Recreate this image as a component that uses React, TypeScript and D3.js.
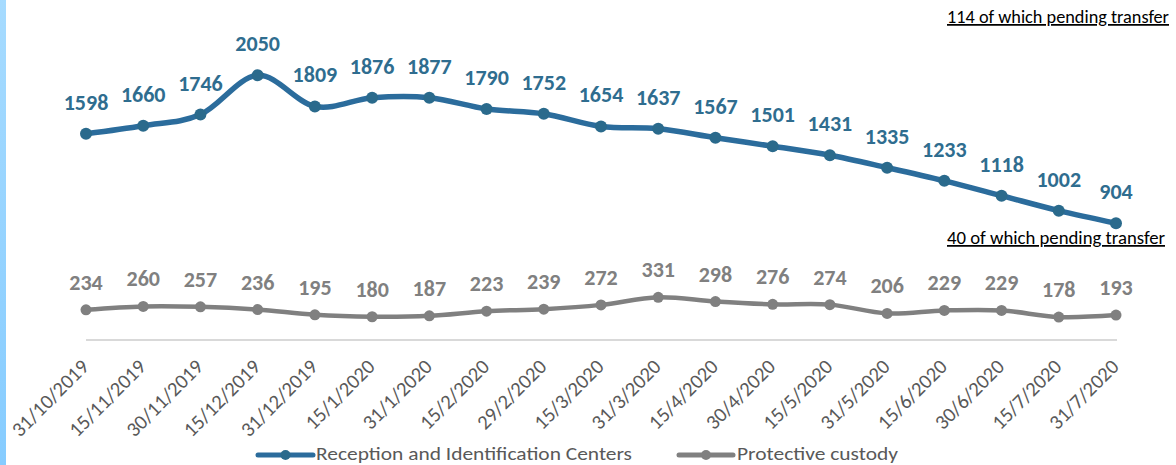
import React from "react";
import * as d3 from "d3";

const dates = [
  "31/10/2019", "15/11/2019", "30/11/2019", "15/12/2019", "31/12/2019",
  "15/1/2020", "31/1/2020", "15/2/2020", "29/2/2020", "15/3/2020",
  "31/3/2020", "15/4/2020", "30/4/2020", "15/5/2020", "31/5/2020",
  "15/6/2020", "30/6/2020", "15/7/2020", "31/7/2020",
];
const ricValues = [1598, 1660, 1746, 2050, 1809, 1876, 1877, 1790, 1752, 1654, 1637, 1567, 1501, 1431, 1335, 1233, 1118, 1002, 904];
const custodyValues = [234, 260, 257, 236, 195, 180, 187, 223, 239, 272, 331, 298, 276, 274, 206, 229, 229, 178, 193];
const seriesNames = ["Reception and Identification Centers", "Protective custody"];
const notes = ["114 of which pending transfer", "40 of which pending transfer"];

const W = 1176;
const H = 465;
const FONT = "Carlito, Lato, 'Open Sans', sans-serif";
const BLUE_LINE = "#2b6c9c";
const BLUE_MARK = "#2a6a8c";
const BLUE_TEXT = "#2f6d8f";
const GRAY = "#808080";

export default function App() {
  const x = d3.scalePoint<string>().domain(dates).range([86, 1116]);
  const y = d3.scaleLinear().domain([0, 2500]).range([340, 17.25]);

  const line = d3
    .line<number>()
    .x((_, i) => x(dates[i]) as number)
    .y((d) => y(d))
    .curve(d3.curveCardinal.tension(0));

  const series = [
    { name: seriesNames[0], values: ricValues, line: BLUE_LINE, mark: BLUE_MARK, text: BLUE_TEXT, lw: 5.5, r: 6, off: 24 },
    { name: seriesNames[1], values: custodyValues, line: GRAY, mark: GRAY, text: GRAY, lw: 4.5, r: 5.5, off: 20 },
  ];

  return (
    <svg
      width={W}
      height={H}
      style={{ position: "absolute", left: 0, top: 0, background: "#fff" }}
      fontFamily={FONT}
    >
      <defs>
        <linearGradient id="sidebar" x1="0" y1="0" x2="0" y2="1">
          <stop offset="0%" stopColor="#a6dbff" />
          <stop offset="100%" stopColor="#86ccff" />
        </linearGradient>
      </defs>
      <rect x={0} y={0} width={6} height={H} fill="url(#sidebar)" />

      {/* axis line */}
      <line x1={x(dates[0])} x2={(x(dates[dates.length - 1]) as number) + 1} y1={y(0)} y2={y(0)} stroke="#d9d9d9" strokeWidth={2} />

      {series.map((s) => (
        <g key={s.name}>
          <path d={line(s.values) || ""} fill="none" stroke={s.line} strokeWidth={s.lw} strokeLinejoin="round" strokeLinecap="round" />
          {s.values.map((v, i) => (
            <circle key={i} cx={x(dates[i])} cy={y(v)} r={s.r} fill={s.mark} />
          ))}
          {s.values.map((v, i) => (
            <text
              key={"l" + i}
              x={x(dates[i])}
              y={y(v) - s.off}
              textAnchor="middle"
              fontSize={22}
              fontWeight="bold"
              fill={s.text}
            >
              {v}
            </text>
          ))}
        </g>
      ))}

      {/* x labels */}
      {dates.map((d) => {
        const px = (x(d) as number) + 4;
        const py = 368;
        return (
          <text
            key={d}
            x={px}
            y={py}
            transform={`rotate(-45 ${px} ${py})`}
            textAnchor="end"
            fontSize={20.5}
            fill="#595959"
          >
            {d}
          </text>
        );
      })}

      {/* notes */}
      <text x={947} y={23} fontSize={17.5} fill="#000" textLength={222} lengthAdjust="spacingAndGlyphs" style={{ textDecoration: "underline" }}>
        {notes[0]}
      </text>
      <text x={947} y={244} fontSize={17.5} fill="#000" textLength={218} lengthAdjust="spacingAndGlyphs" style={{ textDecoration: "underline" }}>
        {notes[1]}
      </text>

      {/* legend */}
      <g>
        <line x1={258} x2={313} y1={455} y2={455} stroke={BLUE_LINE} strokeWidth={5} strokeLinecap="round" />
        <circle cx={285.5} cy={455} r={5} fill={BLUE_MARK} />
        <text x={316} y={460} fontSize={18.5} fill="#595959" textLength={316} lengthAdjust="spacingAndGlyphs">{seriesNames[0]}</text>
        <line x1={679} x2={733} y1={455} y2={455} stroke={GRAY} strokeWidth={5} strokeLinecap="round" />
        <circle cx={706} cy={455} r={5} fill={GRAY} />
        <text x={737} y={460} fontSize={18.5} fill="#595959" textLength={161} lengthAdjust="spacingAndGlyphs">{seriesNames[1]}</text>
      </g>
    </svg>
  );
}
